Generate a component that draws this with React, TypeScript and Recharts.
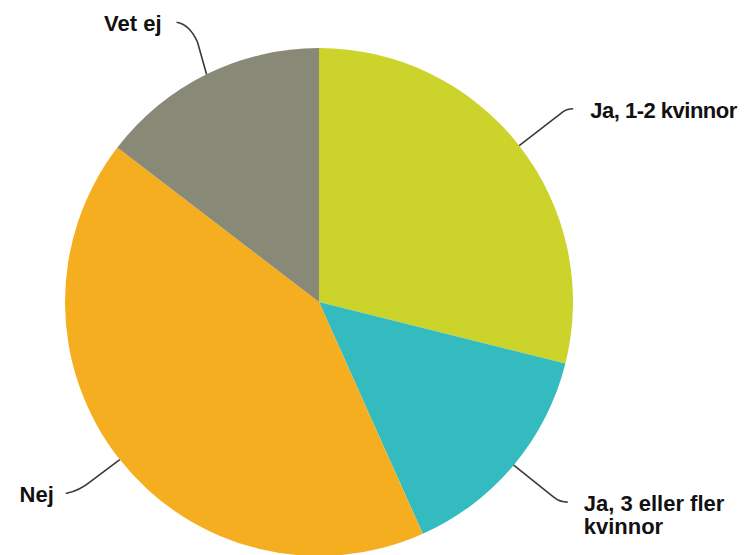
import React from 'react';
import { PieChart, Pie, Cell } from 'recharts';

const categories = ['Ja, 1-2 kvinnor', 'Ja, 3 eller fler kvinnor', 'Nej', 'Vet ej'];
const values = [28.9, 14.4, 42.1, 14.6];
const labelTexts = [['Ja, 1-2 kvinnor'], ['Ja, 3 eller fler', 'kvinnor'], ['Nej'], ['Vet ej']];
const colors = ['#CCD32A', '#33BBBF', '#F5AE1F', '#898977'];

const data = categories.map((name, i) => ({ name, value: values[i] }));

const labelLayout = [
  { path: 'l44,-34 q4,-3 10,-3', dx: 71, dy: -28, anchor: 'start', ls: -0.5 },
  { path: 'l40,32 q6,5 14,5', dx: 70, dy: 46, anchor: 'start', ls: 0 },
  { path: 'l-28,21 q-12,10 -26,13', dx: -66, dy: 42, anchor: 'end', ls: 0 },
  { path: 'l-9,-32 q-8,-18 -21,-20', dx: -45, dy: -43, anchor: 'end', ls: 0 },
];

const RAD = Math.PI / 180;

const renderLabel = (props: any) => {
  const { cx, cy, midAngle, outerRadius, index } = props;
  const x = cx + outerRadius * Math.cos(-midAngle * RAD);
  const y = cy + outerRadius * Math.sin(-midAngle * RAD);
  const lay = labelLayout[index];
  const lines = labelTexts[index];
  return (
    <g key={`lbl-${index}`}>
      <path d={`M${x},${y} ${lay.path}`} stroke="#3a3a3a" strokeWidth={1.6} fill="none" />
      <text
        x={x + lay.dx}
        y={y + lay.dy}
        textAnchor={lay.anchor as any}
        fill="#111"
        style={{
          fontFamily: '"Liberation Sans", Arial, sans-serif',
          fontWeight: 'bold',
          fontSize: 22,
          letterSpacing: lay.ls,
        }}
      >
        {lines.map((t, i) => (
          <tspan key={i} x={x + lay.dx} dy={i === 0 ? 0 : 23}>
            {t}
          </tspan>
        ))}
      </text>
    </g>
  );
};

export default function App() {
  return (
    <div style={{ margin: '-8px 0 0 -8px', width: 751, height: 555, background: '#fff' }}>
      <PieChart width={751} height={555} margin={{ top: 0, right: 0, bottom: 0, left: 0 }}>
        <Pie
          data={data}
          dataKey="value"
          nameKey="name"
          cx={319}
          cy={302}
          outerRadius={254}
          startAngle={90}
          endAngle={-270}
          stroke="none"
          label={renderLabel}
          labelLine={false}
          isAnimationActive={false}
        >
          {data.map((d, i) => (
            <Cell key={d.name} fill={colors[i]} />
          ))}
        </Pie>
      </PieChart>
    </div>
  );
}
